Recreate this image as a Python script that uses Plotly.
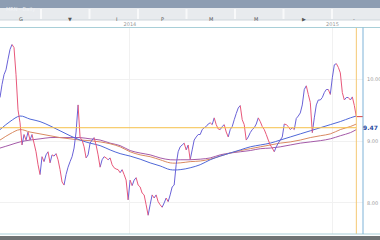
import pandas as pd
import plotly.graph_objects as go

# ---------------- data ----------------
price = [9.71, 9.92, 10.08, 10.16, 10.33, 10.49, 10.57, 10.52, 10.08, 9.51,
         9.30, 8.94, 9.11, 9.02, 9.15, 9.02, 9.11, 8.97, 8.83, 8.62,
         8.46, 8.75, 8.67, 8.78, 8.83, 8.65, 8.78, 8.76, 8.80, 8.70,
         8.54, 8.34, 8.29, 8.46, 8.58, 8.67, 8.75, 8.89, 9.15, 9.59,
         9.06, 9.02, 8.91, 8.73, 8.78, 8.97, 9.02, 9.06, 8.94, 8.78,
         8.58, 8.70, 8.75, 8.73, 8.70, 8.73, 8.62, 8.57, 8.55, 8.54,
         8.49, 8.54, 8.46, 8.37, 8.05, 8.37, 8.28, 8.37, 8.41, 8.29,
         8.26, 8.16, 8.13, 7.97, 7.80, 7.97, 8.13, 8.08, 8.13, 8.02,
         7.97, 7.93, 8.00, 8.08, 8.02, 8.13, 8.26, 8.29, 8.62, 8.83,
         8.91, 8.94, 8.97, 8.86, 8.94, 8.70, 8.86, 9.02, 9.07, 9.11,
         9.11, 9.19, 9.22, 9.24, 9.28, 9.30, 9.27, 9.38, 9.27, 9.20,
         9.19, 9.24, 9.27, 9.15, 9.07, 9.19, 9.24, 9.35, 9.45, 9.54,
         9.58, 9.35, 9.27, 9.02, 9.07, 9.14, 9.19, 9.22, 9.28, 9.38,
         9.32, 9.24, 9.19, 9.11, 9.02, 8.94, 8.89, 8.83, 8.91, 8.97,
         9.02, 9.07, 9.28, 9.27, 9.24, 9.19, 9.22, 9.19, 9.37, 9.41,
         9.46, 9.59, 9.84, 9.90, 9.76, 9.63, 9.14, 9.38, 9.59, 9.67,
         9.67, 9.71, 9.79, 9.84, 9.84, 9.76, 10.03, 10.24, 10.26, 10.20,
         10.11, 9.79, 9.67, 9.71, 9.71, 9.67, 9.72, 9.58, 9.40]
dates = pd.date_range("2013-05-12", "2015-02-13", periods=len(price))

ma_short = [9.19, 9.32, 9.41, 9.36, 9.32, 9.25, 9.17, 9.09, 9.02, 8.97,
            8.93, 8.86, 8.80, 8.76, 8.71, 8.65, 8.60, 8.54, 8.54, 8.57,
            8.62, 8.70, 8.76, 8.81, 8.86, 8.91, 8.94, 8.97, 9.02, 9.07,
            9.12, 9.17, 9.22, 9.27, 9.32, 9.38, 9.41]
ma_mid = [9.02, 9.12, 9.19, 9.15, 9.12, 9.09, 9.06, 9.04, 9.02, 9.01,
          8.99, 8.96, 8.91, 8.83, 8.78, 8.75, 8.70, 8.65, 8.65, 8.67,
          8.68, 8.71, 8.76, 8.81, 8.85, 8.88, 8.91, 8.94, 8.97, 8.99,
          9.02, 9.06, 9.09, 9.12, 9.19, 9.24, 9.28]
ma_long = [8.89, 8.94, 8.99, 9.02, 9.04, 9.06, 9.06, 9.06, 9.06, 9.04,
           9.02, 8.97, 8.93, 8.85, 8.81, 8.78, 8.73, 8.70, 8.70, 8.70,
           8.71, 8.73, 8.78, 8.81, 8.83, 8.85, 8.88, 8.89, 8.91, 8.94,
           8.97, 8.99, 9.01, 9.04, 9.09, 9.14, 9.19]
ma_dates = list(dates[::5]) + [dates[-1]]

level_line = 9.22
level_label = "9.47"
y_ticks = [8.0, 9.0, 10.0]
year_ticks = ["2014-01-01", "2015-01-01"]
year_labels = ["2014", "2015"]
x_range = ["2013-05-12", "2015-02-25"]
y_range = [7.496, 10.846]
toolbar_labels = ["G", "▼", "I", "P", "M", "M", "▶", "-"]
title_text = "MRN - Daily"

# ---------------- figure ----------------
fig = go.Figure()

# price line split into up / down segments
ux, uy, dx, dy = [], [], [], []
for i in range(len(price) - 1):
    if price[i + 1] >= price[i]:
        ux += [dates[i], dates[i + 1], None]
        uy += [price[i], price[i + 1], None]
    else:
        dx += [dates[i], dates[i + 1], None]
        dy += [price[i], price[i + 1], None]

fig.add_trace(go.Scatter(x=ma_dates, y=ma_long, mode="lines",
                         line=dict(color="#a45aa8", width=1, shape="spline"), hoverinfo="skip"))
fig.add_trace(go.Scatter(x=ma_dates, y=ma_mid, mode="lines",
                         line=dict(color="#d98a62", width=1, shape="spline"), hoverinfo="skip"))
fig.add_trace(go.Scatter(x=ma_dates, y=ma_short, mode="lines",
                         line=dict(color="#5068d8", width=1, shape="spline"), hoverinfo="skip"))
fig.add_trace(go.Scatter(x=ux, y=uy, mode="lines",
                         line=dict(color="#6a62d8", width=1), hoverinfo="skip"))
fig.add_trace(go.Scatter(x=dx, y=dy, mode="lines",
                         line=dict(color="#e8587a", width=1), hoverinfo="skip"))
# last price tick
fig.add_trace(go.Scatter(x=[dates[-1], x_range[1]], y=[price[-1], price[-1]], mode="lines",
                         line=dict(color="#d84040", width=1), hoverinfo="skip"))

# level horizontal line
fig.add_shape(type="line", xref="x", yref="y", x0=x_range[0], x1=dates[-1],
              y0=level_line, y1=level_line, line=dict(color="#f5c04a", width=1))
# orange vertical line at last bar
fig.add_shape(type="line", xref="x", yref="paper", x0=dates[-1], x1=dates[-1],
              y0=0.025, y1=0.8833, line=dict(color="#f5c873", width=1))

fig.add_annotation(x=1.0, xref="paper", y=level_line, yref="y", xanchor="right",
                   text="<b>" + level_label + "</b>", showarrow=False,
                   font=dict(size=6, color="#2a4aa0", family="DejaVu Sans"))

# chrome: title bar, toolbar, frame lines, bottom strip
fig.add_shape(type="rect", xref="paper", yref="paper", x0=0, x1=1, y0=1 - 8 / 240, y1=1,
              fillcolor="#8d9db2", line=dict(width=0), layer="below")
fig.add_shape(type="rect", xref="paper", yref="paper", x0=0, x1=1, y0=1 - 20 / 240, y1=1 - 8 / 240,
              fillcolor="#e8ebee", line=dict(width=0), layer="below")
fig.add_shape(type="line", xref="paper", yref="paper", x0=0, x1=1, y0=1 - 20 / 240, y1=1 - 20 / 240,
              line=dict(color="#cfd6dc", width=1))
fig.add_shape(type="line", xref="paper", yref="paper", x0=0, x1=1, y0=1 - 27.5 / 240, y1=1 - 27.5 / 240,
              line=dict(color="#a9cfd8", width=1))
fig.add_shape(type="line", xref="paper", yref="paper", x0=0, x1=1, y0=6 / 240, y1=6 / 240,
              line=dict(color="#a9cfd8", width=1))
fig.add_shape(type="rect", xref="paper", yref="paper", x0=0, x1=1, y0=0, y1=4 / 240,
              fillcolor="#6f7375", line=dict(width=0))
fig.add_shape(type="line", xref="paper", yref="paper", x0=363 / 380, x1=363 / 380,
              y0=6 / 240, y1=1 - 27.5 / 240, line=dict(color="#7fb3d8", width=1))

fig.add_annotation(x=4 / 380, xref="paper", y=1 - 4 / 240, yref="paper", xanchor="left",
                   text=title_text, showarrow=False,
                   font=dict(size=5, color="#f2f4f7", family="DejaVu Sans"))
for i, lab in enumerate(toolbar_labels):
    fig.add_annotation(x=(17 + i * 48.5) / 380, xref="paper", y=1 - 14 / 240, yref="paper",
                       text=lab, showarrow=False,
                       font=dict(size=5, color="#555", family="DejaVu Sans"))
for i in range(1, len(toolbar_labels)):
    xs = (41 + (i - 1) * 48.5) / 380
    fig.add_shape(type="line", xref="paper", yref="paper", x0=xs, x1=xs,
                  y0=1 - 19 / 240, y1=1 - 9 / 240, line=dict(color="#f8f9fa", width=2))

fig.update_layout(
    width=380, height=240,
    margin=dict(l=0, r=0, t=0, b=0),
    paper_bgcolor="white", plot_bgcolor="white",
    showlegend=False,
    xaxis=dict(domain=[0, 363 / 380], range=x_range, side="top",
               tickvals=year_ticks, ticktext=year_labels,
               tickfont=dict(size=5, color="#999", family="DejaVu Sans"),
               showgrid=True, gridcolor="#f1f1f1", gridwidth=1,
               zeroline=False, showline=False, ticks="", ticklen=0),
    yaxis=dict(domain=[6 / 240, 1 - 27.5 / 240], range=y_range, side="right",
               tickvals=y_ticks, tickformat=".2f",
               tickfont=dict(size=5, color="#999", family="DejaVu Sans"),
               showgrid=True, gridcolor="#f1f1f1", gridwidth=1,
               zeroline=False, showline=False, ticks="", ticklabelstandoff=3),
)

fig.write_html("out.html")
